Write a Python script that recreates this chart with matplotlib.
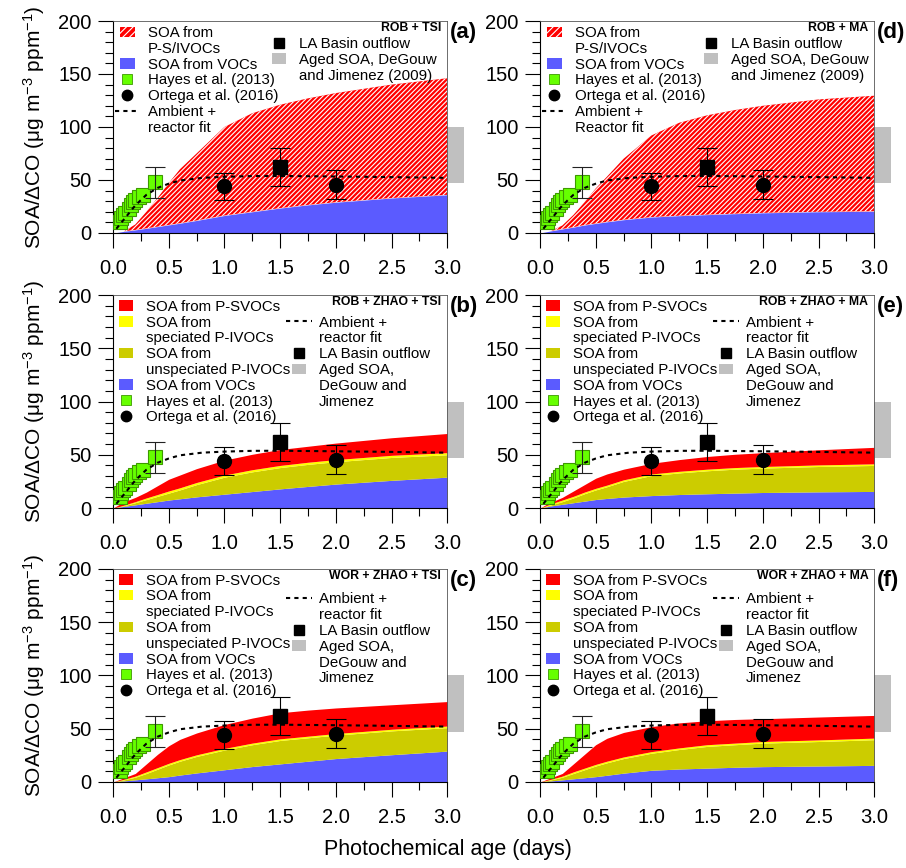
import numpy as np
import matplotlib
matplotlib.use('Agg')
import matplotlib.pyplot as plt
from matplotlib.patches import Patch, Rectangle
from matplotlib.lines import Line2D
from matplotlib.legend_handler import HandlerPatch
from matplotlib.ticker import MultipleLocator, FormatStrFormatter

plt.rcParams['font.family'] = ['Liberation Sans', 'DejaVu Sans']
plt.rcParams['mathtext.fontset'] = 'custom'
plt.rcParams['mathtext.rm'] = 'Liberation Sans'
plt.rcParams['mathtext.it'] = 'Liberation Sans:italic'
plt.rcParams['hatch.linewidth'] = 0.8

# photochemical age grid (days) for the model curves
age = [0, 0.05, 0.1, 0.2, 0.3, 0.4, 0.5, 0.6, 0.75, 1.0, 1.25, 1.5, 1.75, 2.0, 2.5, 3.0]

# (a) ROB + TSI : VOC SOA and total (VOC + P-S/IVOC) SOA
voc_a = [0, 0.7, 1.6, 2.9, 4.4, 6, 7.6, 9.2, 11.8, 16.5, 20, 23.5, 26.5, 29, 33, 36]
total_a = [0, 0.7, 1.6, 8, 20, 33, 47, 60, 75, 100, 113, 121, 127, 132, 140, 146]

# (d) ROB + MA
voc_d = [0, 1, 2, 3.8, 5.5, 7.5, 9, 10.5, 12.5, 15, 16.3, 17.3, 18.2, 19, 20, 20.5]
total_d = [0, 1, 2, 7, 17, 29, 42, 53, 70, 92, 104, 111, 116, 120, 126, 129.5]

# (b) ROB + ZHAO + TSI : cumulative tops of VOC, unspeciated, speciated, P-SVOC
voc_b = [0, 0.8, 1.6, 3, 4.5, 6, 7.5, 8.7, 10.5, 13, 15.5, 18, 20.3, 22.5, 26, 29]
unspec_b = [0, 1, 2.2, 5, 8, 11, 14, 17, 22, 29, 34, 38, 41, 43.5, 47.5, 50]
spec_b = [0, 1.3, 2.8, 6, 9.5, 12.7, 16, 19, 24, 31, 36, 40, 43, 45.5, 49.5, 52]
svoc_b = [0, 3, 6, 10, 15, 21, 27, 31, 37, 45, 50.5, 55, 58, 61, 66, 70]

# (e) ROB + ZHAO + MA
voc_e = [0, 1, 2, 3.5, 5, 6.5, 8, 9, 10.3, 11.7, 12.7, 13.4, 14, 14.6, 15.2, 15.6]
unspec_e = [0, 1.5, 3, 6, 9.5, 13.5, 17, 20, 25, 30.5, 33, 35, 36.5, 37.5, 39, 40]
spec_e = [0, 2, 4, 7.5, 11, 15, 18.5, 21.5, 26.5, 32, 34.5, 36.5, 38, 39, 40.5, 41.5]
svoc_e = [0, 3, 5.5, 10, 16, 22, 28, 32, 36.5, 42, 45.5, 48.4, 50.5, 52, 54.7, 57]

# (c) WOR + ZHAO + TSI
voc_c = [0, 0.5, 1, 2, 3, 4, 5, 6.5, 8.5, 11.5, 14.5, 17, 19.5, 22, 25.6, 29]
unspec_c = [0, 1, 2, 4.5, 8, 12, 16, 19.5, 24, 30, 35, 39, 41.5, 44, 48, 51]
spec_c = [0, 1.3, 2.6, 5.5, 9.5, 13.5, 17.5, 21, 25.5, 31.5, 36.5, 40.5, 43, 45.5, 49.5, 52.5]
svoc_c = [0, 2, 4, 8, 17, 26, 34, 40, 46, 54, 60, 65, 67.5, 69.5, 72.5, 75.5]

# (f) WOR + ZHAO + MA
voc_f = [0, 0.5, 1, 2, 3, 4, 5, 6.3, 8.3, 11, 12.2, 13, 13.8, 14.4, 15, 15.6]
unspec_f = [0, 1, 2, 4.5, 8, 11.5, 15, 18, 22, 27, 30.5, 33.4, 35, 36.5, 38, 39.7]
spec_f = [0, 1.3, 2.6, 5.5, 9.5, 13, 16.5, 19.5, 23.5, 28.5, 32, 35, 36.5, 38, 39.5, 41.2]
svoc_f = [0, 2, 4, 8, 17, 26, 35, 41, 46.5, 52, 55.5, 57.5, 58.7, 59.4, 61, 62.5]

# ambient + reactor fit
fit_age = [0.03, 0.1, 0.2, 0.3, 0.4, 0.5, 0.6, 0.8, 1.0, 1.25, 1.5, 2.0, 2.5, 3.0]
fit_soa = [4, 13, 26, 36, 42.5, 46.5, 49.5, 52, 53, 53.7, 53.8, 53.3, 52.7, 52]

# observations
hayes_age = [0.06, 0.07, 0.09, 0.11, 0.14, 0.16, 0.18, 0.20, 0.23, 0.27, 0.38]
hayes_soa = [10, 14, 17, 19, 23, 26, 29, 31, 34, 36, 48]
hayes_err = [[15], [14]]   # only on the last point
ortega_age = [1.0, 2.0]
ortega_soa = [44, 45]
ortega_err = [[13, 13], [13, 14]]
la_age = [1.5]
la_soa = [62]
la_err = [[18], [18]]
aged_soa = [47, 100]   # DeGouw and Jimenez (2009) range

RED = '#FF0000'
YELLOW = '#FFFF00'
OLIVE = '#CCCC00'
BLUE = '#5B5BFF'
GRAY = '#C0C0C0'
GREEN = '#66FF00'
DKGREEN = '#3D9900'
HATCH = '///////'


def small_box(legend, orig_handle, xdescent, ydescent, width, height, fontsize):
    return Rectangle((-xdescent + 0.22 * width, -ydescent), 0.56 * width, height)


def setup(ax):
    ax.set_xlim(0, 3.0)
    ax.set_ylim(0, 200)
    ax.xaxis.set_major_locator(MultipleLocator(0.5))
    ax.xaxis.set_minor_locator(MultipleLocator(0.25))
    ax.yaxis.set_major_locator(MultipleLocator(50))
    ax.yaxis.set_minor_locator(MultipleLocator(10))
    ax.xaxis.set_major_formatter(FormatStrFormatter('%.1f'))
    ax.tick_params(which='major', direction='out', length=10.5, width=0.8, labelsize=14.5)
    ax.tick_params(which='minor', direction='out', length=5.5, width=0.8)
    ax.tick_params(axis='x', which='major', pad=8)
    ax.tick_params(axis='y', which='major', pad=5)
    for s in ['top', 'right']:
        ax.spines[s].set_color('#555555')
        ax.spines[s].set_linewidth(0.6)
    for s in ['left', 'bottom']:
        ax.spines[s].set_linewidth(0.8)


def observations(ax):
    ax.bar(3.0, aged_soa[1] - aged_soa[0], bottom=aged_soa[0], width=0.15,
           align='edge', color=GRAY, clip_on=False, zorder=1)
    ax.plot(hayes_age, hayes_soa, 's', ms=9.5, mfc=GREEN, mec=DKGREEN, mew=0.8, zorder=4)
    ax.errorbar(hayes_age[-1:], hayes_soa[-1:], yerr=hayes_err, fmt='none',
                ecolor='#222222', elinewidth=0.8, capsize=7, capthick=0.8, zorder=4)
    ax.plot(fit_age, fit_soa, color='black', ls=(0, (2, 2)), lw=1.5, zorder=5)
    ax.errorbar(ortega_age, ortega_soa, yerr=ortega_err, fmt='o', ms=10, color='black',
                elinewidth=0.8, capsize=7, capthick=0.8, zorder=6)
    ax.errorbar(la_age, la_soa, yerr=la_err, fmt='s', ms=10, color='black',
                elinewidth=0.8, capsize=7, capthick=0.8, zorder=6)


blank = Line2D([], [], ls='none')
hayes_h = Line2D([], [], ls='none', marker='s', ms=7, mfc=GREEN, mec=DKGREEN, mew=0.6)
ortega_h = Line2D([], [], ls='none', marker='o', ms=7.5, color='black')
la_h = Line2D([], [], ls='none', marker='s', ms=7.5, color='black')
fit_h = Line2D([], [], color='black', ls=(0, (2, 2)), lw=1.5)
hatch_h = Patch(facecolor=RED, edgecolor='white', hatch='/////', lw=0)
blue_h = Patch(facecolor=BLUE, lw=0)
red_h = Patch(facecolor=RED, lw=0)
yellow_h = Patch(facecolor=YELLOW, lw=0)
olive_h = Patch(facecolor=OLIVE, lw=0)
gray_h = Patch(facecolor=GRAY, lw=0)

leg_kw = dict(loc='upper left', frameon=False, fontsize=10.8, borderaxespad=0, borderpad=0,
              handlelength=1.7, handletextpad=0.5, labelspacing=0.12,
              handler_map={Patch: HandlerPatch(patch_func=small_box)})


def panel_label(ax, tag, letter):
    ax.text(0.982, 0.967, tag, transform=ax.transAxes, ha='right', va='center',
            fontsize=8.8, fontweight='bold')
    ax.text(1.008, 0.945, letter, transform=ax.transAxes, ha='left', va='center',
            fontsize=16, fontweight='bold')


fig = plt.figure(figsize=(9.06, 8.68), dpi=100)
left_x, right_x, w = 0.1247, 0.596, 0.369
rows = [(0.7316, 0.2442), (0.4147, 0.2454), (0.0991, 0.2454)]
ylabel = 'SOA/ΔCO (μg m$^{\\mathrm{-3}}$ ppm$^{\\mathrm{-1}}$)'

# top row: hatched P-S/IVOC panels
for col, (voc, total, tag, letter, fitlab, lx) in enumerate([
        (voc_a, total_a, 'ROB + TSI', '(a)', 'reactor fit', 0.458),
        (voc_d, total_d, 'ROB + MA', '(d)', 'Reactor fit', 0.474)]):
    ax = fig.add_axes([left_x if col == 0 else right_x, rows[0][0], w, rows[0][1]])
    setup(ax)
    ax.fill_between(age, 0, voc, color=BLUE, lw=0, zorder=2)
    ax.fill_between(age, voc, total, facecolor=RED, edgecolor='white', hatch=HATCH, lw=0, zorder=2)
    observations(ax)
    leg1 = ax.legend([hatch_h, blank, blue_h, hayes_h, ortega_h, fit_h, blank],
                     ['SOA from', 'P-S/IVOCs', 'SOA from VOCs', 'Hayes et al. (2013)',
                      'Ortega et al. (2016)', 'Ambient +', fitlab],
                     bbox_to_anchor=(0.005, 0.976), **leg_kw)
    ax.add_artist(leg1)
    ax.legend([la_h, gray_h, blank],
              ['LA Basin outflow', 'Aged SOA, DeGouw', 'and Jimenez (2009)'],
              bbox_to_anchor=(lx, 0.925), **leg_kw)
    panel_label(ax, tag, letter)
    if col == 0:
        ax.set_ylabel(ylabel, fontsize=15, labelpad=8)

# middle and bottom rows: stacked ZHAO panels
zhao = [
    (1, 0, voc_b, unspec_b, spec_b, svoc_b, 'ROB + ZHAO + TSI', '(b)', 0.903),
    (1, 1, voc_e, unspec_e, spec_e, svoc_e, 'ROB + ZHAO + MA', '(e)', 0.903),
    (2, 0, voc_c, unspec_c, spec_c, svoc_c, 'WOR + ZHAO + TSI', '(c)', 0.89),
    (2, 1, voc_f, unspec_f, spec_f, svoc_f, 'WOR + ZHAO + MA', '(f)', 0.89),
]
for row, col, voc, unspec, spec, svoc, tag, letter, ly in zhao:
    ax = fig.add_axes([left_x if col == 0 else right_x, rows[row][0], w, rows[row][1]])
    setup(ax)
    ax.fill_between(age, 0, voc, color=BLUE, lw=0, zorder=2)
    ax.fill_between(age, voc, unspec, color=OLIVE, lw=0, zorder=2)
    ax.fill_between(age, unspec, spec, color=YELLOW, lw=0, zorder=2)
    ax.fill_between(age, spec, svoc, color=RED, lw=0, zorder=2)
    observations(ax)
    leg1 = ax.legend([red_h, yellow_h, blank, olive_h, blank, blue_h, hayes_h, ortega_h],
                     ['SOA from P-SVOCs', 'SOA from', 'speciated P-IVOCs', 'SOA from',
                      'unspeciated P-IVOCs', 'SOA from VOCs', 'Hayes et al. (2013)',
                      'Ortega et al. (2016)'],
                     bbox_to_anchor=(0.0, 0.978), **leg_kw)
    ax.add_artist(leg1)
    ax.legend([fit_h, blank, la_h, gray_h, blank, blank],
              ['Ambient +', 'reactor fit', 'LA Basin outflow', 'Aged SOA,', 'DeGouw and', 'Jimenez'],
              bbox_to_anchor=(0.518, ly), **leg_kw)
    panel_label(ax, tag, letter)
    if col == 0:
        ax.set_ylabel(ylabel, fontsize=15, labelpad=8)

fig.text(0.494, 0.021, 'Photochemical age (days)', ha='center', va='center', fontsize=15.5)

fig.savefig('out.png', dpi=100)
